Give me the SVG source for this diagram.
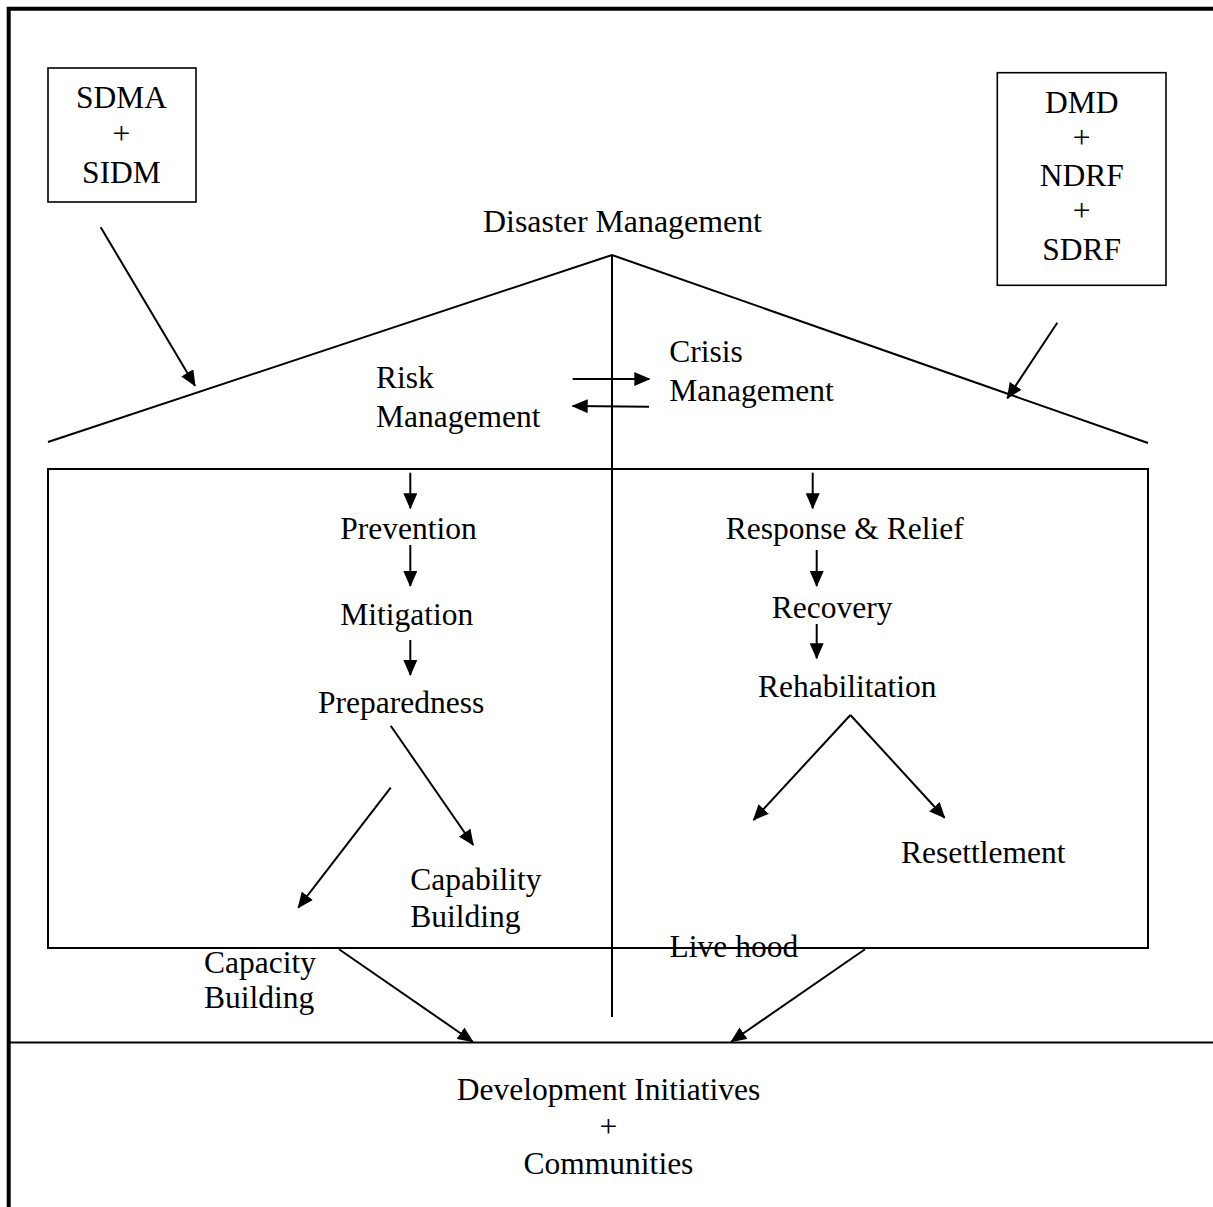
<svg xmlns="http://www.w3.org/2000/svg" width="1213" height="1207" viewBox="0 0 1213 1207">
<style>
  text { font-family: "Liberation Serif", "Times New Roman", serif; font-size: 31.5px; fill: #000; }
  .mid { text-anchor: middle; }
  .ln { stroke: #000; fill: none; stroke-width: 2; }
  .box { stroke: #000; fill: none; stroke-width: 1.6; }
  .arr { stroke: #000; fill: none; stroke-width: 2; marker-end: url(#ah); }
</style>
<defs>
  <marker id="ah" markerUnits="userSpaceOnUse" markerWidth="16" markerHeight="14" refX="15" refY="7" orient="auto">
    <path d="M0,0 L16,7 L0,14 Z" fill="#000"/>
  </marker>
</defs>
<rect x="0" y="0" width="1213" height="1207" fill="#fff"/>
<g id="frame">
  <path d="M8.7,1207 V8.7 H1213" stroke="#000" stroke-width="4" fill="none"/>
  <path d="M10,1042.5 H1213" class="ln" stroke-width="2.5"/>
  <polyline points="48,442 612,255 1148,443" class="ln"/>
  <line x1="612" y1="255" x2="612" y2="1017" class="ln"/>
  <rect x="48" y="469" width="1100" height="479" class="ln"/>
</g>
<g id="sdma">
  <rect x="48" y="68" width="148" height="134" class="box"/>
  <text x="121.5" y="108" class="mid">SDMA</text>
  <text x="121.5" y="143.5" class="mid">+</text>
  <text x="121.5" y="183" class="mid">SIDM</text>
</g>
<g id="dmd">
  <rect x="997.3" y="72.7" width="168.7" height="212.6" class="box"/>
  <text x="1081.7" y="113" class="mid">DMD</text>
  <text x="1081.7" y="148" class="mid">+</text>
  <text x="1081.7" y="186" class="mid">NDRF</text>
  <text x="1081.7" y="221" class="mid">+</text>
  <text x="1081.7" y="260" class="mid">SDRF</text>
</g>
<g id="disaster-management"><text x="483" y="232" font-size="30" textLength="279" lengthAdjust="spacingAndGlyphs">Disaster Management</text></g>
<g id="risk-management">
  <text x="376" y="388.3">Risk</text>
  <text x="376" y="426.7">Management</text>
</g>
<g id="crisis-management">
  <text x="669.3" y="361.7">Crisis</text>
  <text x="669.3" y="400.7">Management</text>
</g>
<g id="prevention"><text x="340.2" y="539.3">Prevention</text></g>
<g id="mitigation"><text x="340.3" y="625">Mitigation</text></g>
<g id="preparedness"><text x="318" y="713.3">Preparedness</text></g>
<g id="capability-building">
  <text x="410.3" y="890">Capability</text>
  <text x="410.3" y="926.7">Building</text>
</g>
<g id="capacity-building">
  <text x="204" y="972.7">Capacity</text>
  <text x="204" y="1008.3">Building</text>
</g>
<g id="response-relief"><text x="725.7" y="539.3">Response &amp; Relief</text></g>
<g id="recovery"><text x="771.7" y="618.3">Recovery</text></g>
<g id="rehabilitation"><text x="758" y="697.3">Rehabilitation</text></g>
<g id="resettlement"><text x="901" y="863.3">Resettlement</text></g>
<g id="livehood"><text x="669.6" y="956.7">Live hood</text></g>
<g id="development">
  <text x="608.5" y="1100" class="mid">Development Initiatives</text>
  <text x="608.5" y="1137" class="mid">+</text>
  <text x="608.5" y="1174" class="mid">Communities</text>
</g>
<g id="connectors">
  <line x1="100.7" y1="227.3" x2="195" y2="385.7" class="arr"/>
  <line x1="1057.3" y1="322.7" x2="1007.3" y2="398.3" class="arr"/>
  <line x1="572.7" y1="379" x2="649.3" y2="379" class="arr"/>
  <line x1="649" y1="406.7" x2="572.7" y2="406" class="arr"/>
  <line x1="410.3" y1="472.7" x2="410.3" y2="508.3" class="arr"/>
  <line x1="410.3" y1="545" x2="410.3" y2="586" class="arr"/>
  <line x1="410.3" y1="640" x2="410.3" y2="675" class="arr"/>
  <line x1="812.7" y1="472.7" x2="812.7" y2="508.3" class="arr"/>
  <line x1="816.7" y1="550" x2="816.7" y2="586" class="arr"/>
  <line x1="816.7" y1="624" x2="816.7" y2="658.3" class="arr"/>
  <line x1="390.7" y1="725.7" x2="473.2" y2="845" class="arr"/>
  <line x1="390.7" y1="787.7" x2="298.2" y2="907.7" class="arr"/>
  <line x1="850.4" y1="715" x2="753.5" y2="820" class="arr"/>
  <line x1="850.4" y1="715" x2="944.6" y2="817.7" class="arr"/>
  <line x1="339" y1="949.3" x2="472.8" y2="1041.7" class="arr"/>
  <line x1="865" y1="949.3" x2="731.2" y2="1041.7" class="arr"/>
</g>
</svg>
